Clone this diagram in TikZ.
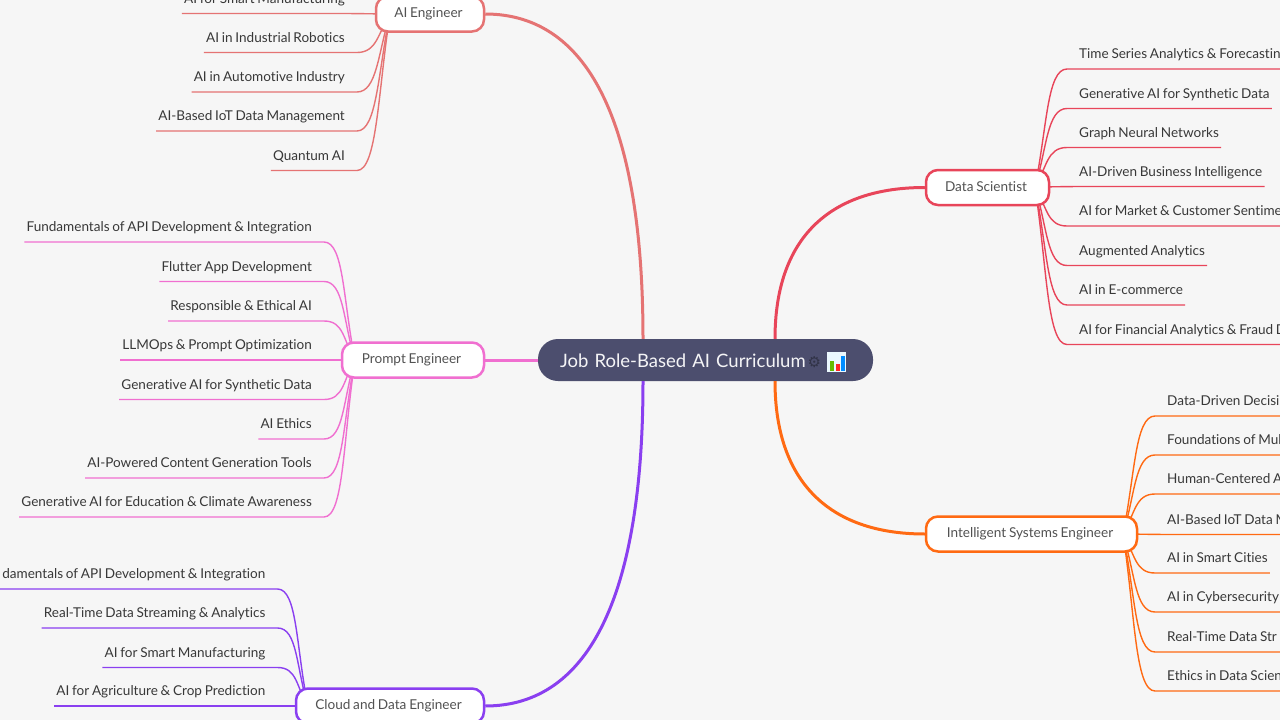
\documentclass[tikz,border=0pt]{standalone}
\usepackage{fontspec}
\setmainfont[Ligatures=NoCommon,WordSpace=0.8]{Lato}
\newfontfamily\symfont{DejaVu Sans}
\definecolor{pagebg}{HTML}{F6F6F6}
\definecolor{rootfill}{HTML}{4C4E6E}
\definecolor{aicol}{HTML}{E57373}
\definecolor{dscol}{HTML}{E8455A}
\definecolor{iscol}{HTML}{FF6A13}
\definecolor{pecol}{HTML}{F06FD0}
\definecolor{cdcol}{HTML}{8A3FF0}
\tikzset{
  rootnode/.style={fill=rootfill,rounded corners=20pt,minimum width=335pt,minimum height=42pt,
    text=white!94!rootfill,font=\fontsize{18.5}{22}\selectfont,align=left,text width=291pt,inner sep=0pt,
    text height=16pt,text depth=0.5pt},
  rolenode/.style={fill=white,line width=2.5pt,rounded corners=12pt,minimum height=35pt,
    text=black!68,font=\fontsize{13.6}{16}\selectfont,inner xsep=0pt,inner ysep=0pt,
    text height=11.5pt,text depth=4.5pt,execute at end node=\hspace{3pt}},
  leafr/.style={anchor=south west,text=black!78,font=\fontsize{13.55}{16}\selectfont,
    inner xsep=2pt,inner ysep=0.5pt,text depth=9.5pt},
  leafl/.style={leafr,anchor=south east},
  branch/.style={line width=3pt},
  twig/.style={line width=1.4pt},
}
\begin{document}
\begin{tikzpicture}[x=1pt,y=-1pt]
  \useasboundingbox (0,0) rectangle (1280,720);
  \clip (0,0) rectangle (1280,720);
  \fill[pagebg] (0,0) rectangle (1280,720);

  % hubs the twigs grow from
  \coordinate (aihub) at (390,14);
  \coordinate (dshub) at (1035,187);
  \coordinate (ishub) at (1123,534);
  \coordinate (pehub) at (355,360);
  \coordinate (cdhub) at (308,706);
  % page edges, for twigs that run off the page
  \coordinate (rightedge) at (1285,0);
  \coordinate (leftedge) at (-5,0);

  % AI Engineer
  \node[leafl] (ai1) at (347,13.5) {AI for Smart Manufacturing};
  \node[leafl] (ai2) at (347,52.5) {AI in Industrial Robotics};
  \node[leafl] (ai3) at (347,92) {AI in Automotive Industry};
  \node[leafl] (ai4) at (347,131) {AI-Based IoT Data Management};
  \node[leafl] (ai5) at (347,170.5) {Quantum AI};

  % Data Scientist
  \node[leafr] (ds1) at (1077,69) {Time Series Analytics \& Forecastin};
  \node[leafr] (ds2) at (1077,108.5) {Generative AI for Synthetic Data};
  \node[leafr] (ds3) at (1077,147.5) {Graph Neural Networks};
  \node[leafr] (ds4) at (1077,186.5) {AI-Driven Business Intelligence};
  \node[leafr] (ds5) at (1077,226) {AI for Market \& Customer Sentime};
  \node[leafr] (ds6) at (1077,265.5) {Augmented Analytics};
  \node[leafr] (ds7) at (1077,305) {AI in E-commerce};
  \node[leafr] (ds8) at (1077,344.5) {AI for Financial Analytics \& Fraud D};

  % Intelligent Systems Engineer
  \node[leafr] (is1) at (1165,416) {Data-Driven Decisio};
  \node[leafr] (is2) at (1165,455) {Foundations of Mul};
  \node[leafr] (is3) at (1165,494) {Human-Centered A};
  \node[leafr] (is4) at (1165,534.5) {AI-Based IoT Data M};
  \node[leafr] (is5) at (1165,573) {AI in Smart Cities};
  \node[leafr] (is6) at (1165,612) {AI in Cybersecurity};
  \node[leafr] (is7) at (1165,652) {Real-Time Data Str};
  \node[leafr] (is8) at (1165,691) {Ethics in Data Scien};

  % Prompt Engineer
  \node[leafl] (pe1) at (314,242) {Fundamentals of API Development \& Integration};
  \node[leafl] (pe2) at (314,281.5) {Flutter App Development};
  \node[leafl] (pe3) at (314,321) {Responsible \& Ethical AI};
  \node[leafl] (pe4) at (314,360) {LLMOps \& Prompt Optimization};
  \node[leafl] (pe5) at (314,399.5) {Generative AI for Synthetic Data};
  \node[leafl] (pe6) at (314,439) {AI Ethics};
  \node[leafl] (pe7) at (314,478) {AI-Powered Content Generation Tools};
  \node[leafl] (pe8) at (314,517) {Generative AI for Education \& Climate Awareness};

  % Cloud and Data Engineer
  \node[leafl] (cd1) at (267.5,589) {damentals of API Development \& Integration};
  \node[leafl] (cd2) at (267.5,628) {Real-Time Data Streaming \& Analytics};
  \node[leafl] (cd3) at (267.5,667.5) {AI for Smart Manufacturing};
  \node[leafl] (cd4) at (267.5,706) {AI for Agriculture \& Crop Prediction};

  % twigs
  \draw[twig,aicol] (aihub) -- (ai1.south east) -- (ai1.south west);
  \draw[twig,aicol] (aihub) .. controls +(-12,19) and +(20,0) .. ([xshift=10pt]ai2.south east) -- (ai2.south west);
  \draw[twig,aicol] (aihub) .. controls +(-12,39) and +(20,0) .. ([xshift=10pt]ai3.south east) -- (ai3.south west);
  \draw[twig,aicol] (aihub) .. controls +(-12,58) and +(20,0) .. ([xshift=10pt]ai4.south east) -- (ai4.south west);
  \draw[twig,aicol] (aihub) .. controls +(-12,78) and +(20,0) .. ([xshift=10pt]ai5.south east) -- (ai5.south west);

  \draw[twig,dscol] (dshub) .. controls +(12,-59) and +(-20,0) .. ([xshift=-10pt]ds1.south west) -- (ds1.south west -| rightedge);
  \draw[twig,dscol] (dshub) .. controls +(12,-39) and +(-20,0) .. ([xshift=-10pt]ds2.south west) -- (ds2.south east);
  \draw[twig,dscol] (dshub) .. controls +(12,-20) and +(-20,0) .. ([xshift=-10pt]ds3.south west) -- (ds3.south east);
  \draw[twig,dscol] (dshub) -- (ds4.south west) -- (ds4.south east);
  \draw[twig,dscol] (dshub) .. controls +(12,20) and +(-20,0) .. ([xshift=-10pt]ds5.south west) -- (ds5.south west -| rightedge);
  \draw[twig,dscol] (dshub) .. controls +(12,39) and +(-20,0) .. ([xshift=-10pt]ds6.south west) -- (ds6.south east);
  \draw[twig,dscol] (dshub) .. controls +(12,59) and +(-20,0) .. ([xshift=-10pt]ds7.south west) -- (ds7.south east);
  \draw[twig,dscol] (dshub) .. controls +(12,79) and +(-20,0) .. ([xshift=-10pt]ds8.south west) -- (ds8.south west -| rightedge);

  \draw[twig,iscol] (ishub) .. controls +(12,-59) and +(-20,0) .. ([xshift=-10pt]is1.south west) -- (is1.south west -| rightedge);
  \draw[twig,iscol] (ishub) .. controls +(12,-39) and +(-20,0) .. ([xshift=-10pt]is2.south west) -- (is2.south west -| rightedge);
  \draw[twig,iscol] (ishub) .. controls +(12,-20) and +(-20,0) .. ([xshift=-10pt]is3.south west) -- (is3.south west -| rightedge);
  \draw[twig,iscol] (ishub) -- (is4.south west) -- (is4.south west -| rightedge);
  \draw[twig,iscol] (ishub) .. controls +(12,20) and +(-20,0) .. ([xshift=-10pt]is5.south west) -- (is5.south east);
  \draw[twig,iscol] (ishub) .. controls +(12,39) and +(-20,0) .. ([xshift=-10pt]is6.south west) -- (is6.south west -| rightedge);
  \draw[twig,iscol] (ishub) .. controls +(12,59) and +(-20,0) .. ([xshift=-10pt]is7.south west) -- (is7.south west -| rightedge);
  \draw[twig,iscol] (ishub) .. controls +(12,79) and +(-20,0) .. ([xshift=-10pt]is8.south west) -- (is8.south west -| rightedge);

  \draw[twig,pecol] (pehub) .. controls +(-12,-59) and +(20,0) .. ([xshift=10pt]pe1.south east) -- (pe1.south west);
  \draw[twig,pecol] (pehub) .. controls +(-12,-39) and +(20,0) .. ([xshift=10pt]pe2.south east) -- (pe2.south west);
  \draw[twig,pecol] (pehub) .. controls +(-12,-20) and +(20,0) .. ([xshift=10pt]pe3.south east) -- (pe3.south west);
  \draw[twig,pecol] (pehub) -- (pe4.south east) -- (pe4.south west);
  \draw[twig,pecol] (pehub) .. controls +(-12,20) and +(20,0) .. ([xshift=10pt]pe5.south east) -- (pe5.south west);
  \draw[twig,pecol] (pehub) .. controls +(-12,39) and +(20,0) .. ([xshift=10pt]pe6.south east) -- (pe6.south west);
  \draw[twig,pecol] (pehub) .. controls +(-12,59) and +(20,0) .. ([xshift=10pt]pe7.south east) -- (pe7.south west);
  \draw[twig,pecol] (pehub) .. controls +(-12,79) and +(20,0) .. ([xshift=10pt]pe8.south east) -- (pe8.south west);

  \draw[twig,cdcol] (cdhub) .. controls +(-12,-58) and +(20,0) .. ([xshift=10pt]cd1.south east) -- (cd1.south west -| leftedge);
  \draw[twig,cdcol] (cdhub) .. controls +(-12,-39) and +(20,0) .. ([xshift=10pt]cd2.south east) -- (cd2.south west);
  \draw[twig,cdcol] (cdhub) .. controls +(-12,-19) and +(20,0) .. ([xshift=10pt]cd3.south east) -- (cd3.south west);
  \draw[twig,cdcol] (cdhub) -- (cd4.south east) -- (cd4.south west);

  % root and roles
  \node[rootnode] (root) at (705.5,360) {Job Role-Based AI Curriculum\hspace{2pt}{\symfont\fontsize{15}{15}\selectfont\textcolor{rootfill!65!black}{⚙}}};
  \node[rolenode,draw=aicol,minimum width=108pt] (ai) at (430,14) {AI Engineer};
  \node[rolenode,draw=dscol,minimum width=123pt] (ds) at (987.5,187.5) {Data Scientist};
  \node[rolenode,draw=iscol,minimum width=211pt] (is) at (1031.5,534) {Intelligent Systems Engineer};
  \node[rolenode,draw=pecol,minimum width=142pt] (pe) at (413,360) {Prompt Engineer};
  \node[rolenode,draw=cdcol,minimum width=188pt] (cd) at (390,706) {Cloud and Data Engineer};

  % branches
  \draw[branch,aicol] ([xshift=-62.5pt]root.north) .. controls +(0,-210) and +(106,0) .. (ai.east);
  \draw[branch,dscol] ([xshift=69.5pt]root.north) .. controls +(0,-100) and +(-96,0) .. (ds.west);
  \draw[branch,iscol] ([xshift=69.5pt]root.south) .. controls +(0,100) and +(-96,0) .. (is.west);
  \draw[branch,pecol] (root.west) -- (pe.east);
  \draw[branch,cdcol] ([xshift=-62.5pt]root.south) .. controls +(0,210) and +(106,0) .. (cd.east);

  % bar chart icon
  \fill[white!92!cyan] ([xshift=121.5pt,yshift=8pt]root.center) rectangle ([xshift=140.5pt,yshift=-12pt]root.center);
  \fill[green!55!black!60!yellow] ([xshift=124.5pt,yshift=-1pt]root.center) rectangle ([xshift=128pt,yshift=-11pt]root.center);
  \fill[red!85] ([xshift=130.5pt,yshift=-4pt]root.center) rectangle ([xshift=134pt,yshift=-11pt]root.center);
  \fill[blue!45!cyan] ([xshift=135.5pt,yshift=4pt]root.center) rectangle ([xshift=139pt,yshift=-11pt]root.center);
\end{tikzpicture}
\end{document}
